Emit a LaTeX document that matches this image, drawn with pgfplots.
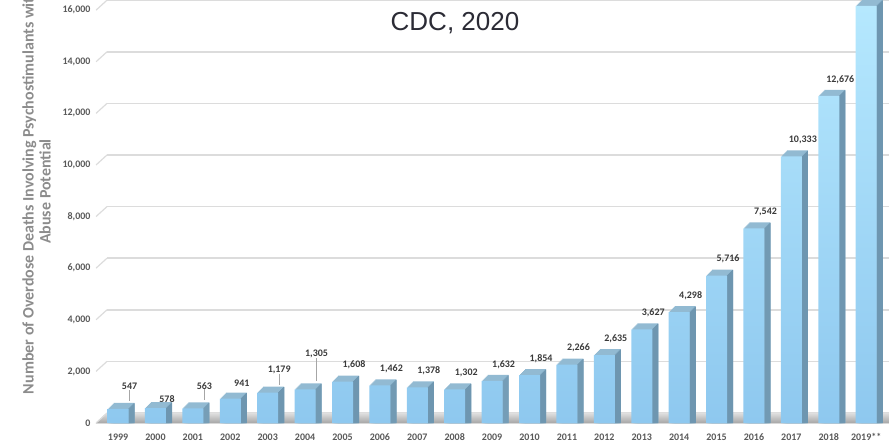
\documentclass[border=0pt]{standalone}
\usepackage{pgfplots}
\usepackage{pgfplotstable}
\usepackage{fontspec}
\setmainfont{Carlito}
\newfontfamily\titlefont{Liberation Sans}
\pgfplotsset{compat=1.18}
\usetikzlibrary{calc}

\definecolor{barTop}{HTML}{B5E8FE}
\definecolor{barBot}{HTML}{8EC8EF}
\definecolor{barSide}{HTML}{6E96B0}
\definecolor{barLid}{HTML}{92BAD2}
\definecolor{gridc}{HTML}{DCDCDC}
\definecolor{tickc}{HTML}{595959}
\definecolor{labc}{HTML}{8C8C8C}
\definecolor{valc}{HTML}{3A3A3A}

% i = position, v = deaths, dy = label lift (px), ll = leader line length (px)
\pgfplotstableread{
i  v      dy  ll
0  547    19  11
1  578    5   0
2  563    19  11
3  941    12  0
4  1179   19  11
5  1305   31  23
6  1608   12  0
7  1462   12  0
8  1378   12  0
9  1302   12  0
10 1632   12  0
11 1854   12  0
12 2266   12  0
13 2635   12  0
14 3627   12  0
15 4298   12  0
16 5716   12  0
17 7542   12  0
18 10333  12  0
19 12676  12  0
20 16167  12  0
}\deaths

\begin{document}
\begin{tikzpicture}
\begin{axis}[
    name=ax,
    scale only axis,
    width=793pt, height=423pt,
    xmin=-0.59, xmax=20.61,
    ymin=0, ymax=16395,
    axis line style={draw=none},
    tick style={draw=none},
    xtick={0,...,20},
    xticklabels={1999,2000,2001,2002,2003,2004,2005,2006,2007,2008,2009,2010,2011,2012,2013,2014,2015,2016,2017,2018,2019**},
    ytick={0,2000,...,16000},
    scaled y ticks=false,
    yticklabel={\pgfmathprintnumber[fixed, precision=0, 1000 sep={,}]{\tick}},
    ymajorgrids,
    major grid style={draw=gridc, line width=1.6pt, xshift=11pt, yshift=10pt},
    /pgf/number format/assume math mode=true,
    ticklabel style={font=\fontsize{10}{12}\selectfont\bfseries, text=tickc},
    yticklabel style={xshift=-2pt},
    xticklabel style={yshift=-3pt},
    ybar, bar width=21pt,
]
% floor
\fill[bottom color=gray!70, top color=gray!25] (axis cs:-0.59,0) -- (axis cs:20.61,0)
    -- ([shift={(11pt,10pt)}]axis cs:20.61,0) -- ([shift={(11pt,10pt)}]axis cs:-0.59,0) -- cycle;
% stubs joining tick labels to the back-wall grid
\pgfplotsinvokeforeach{0,2000,4000,6000,8000,10000,12000,14000,16000}{
  \draw[gridc, line width=1.2pt] (axis cs:-0.59,#1) -- ++(11pt,10pt);
}
% depth of the bars: lid
\pgfplotsinvokeforeach{1,2,3,4,5,6}{
  \addplot[fill=barLid, draw=none, bar shift=#1pt, forget plot]
    table[x=i, y expr=\thisrow{v}+#1*38.8] {\deaths};
}
% depth of the bars: side
\pgfplotsinvokeforeach{1,2,3,4,5,6}{
  \addplot[fill=barSide, draw=none, bar width=1.2pt, bar shift={10pt+#1pt}, forget plot]
    table[x=i, y expr=\thisrow{v}+#1*38.8-20] {\deaths};
}
% front faces
\addplot[draw=none, top color=barTop, bottom color=barBot, bar shift=0pt, forget plot]
  table[x=i, y=v] {\deaths};
% value labels with leader lines
\addplot[sharp plot, draw=none, mark=none, forget plot,
    point meta=explicit,
    nodes near coords={\pgfmathprintnumber[fixed, precision=0, 1000 sep={,}]{\pgfplotspointmeta}},
    nodes near coords style={font=\fontsize{10}{12}\selectfont\bfseries, text=valc, anchor=south, inner sep=0pt},
    error bars/.cd, y dir=minus, y explicit, error mark=none,
    error bar style={draw=gray!70, line width=0.6pt},
  ] table[x=i, y expr=\thisrow{v}+\thisrow{dy}*38.76, meta=v,
          y error minus expr=\thisrow{ll}*38.76] {\deaths};
\end{axis}
\node[font=\fontsize{16}{17}\selectfont\bfseries, text=labc, rotate=90, align=center, anchor=center]
  at ($(ax.west)+(-59.5pt,20pt)$)
  {Number of Overdose Deaths Involving Psychostimulants with\\Abuse Potential};
\node[font=\titlefont\fontsize{26}{30}\selectfont, text={rgb,255:red,43;green,43;blue,53}, anchor=center]
  at ($(ax.north west)+(359pt,-23pt)$) {CDC, 2020};
\pgfresetboundingbox
\useasboundingbox ($(ax.south west)+(-96pt,-22pt)$) rectangle (ax.north east);
\end{tikzpicture}
\end{document}
